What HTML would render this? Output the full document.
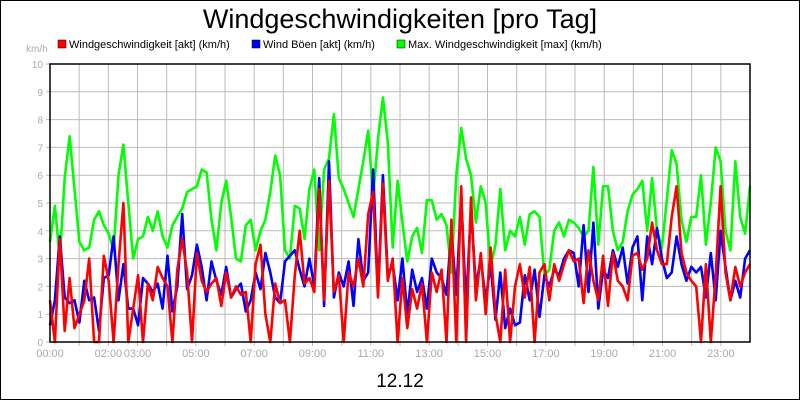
<!DOCTYPE html>
<html><head><meta charset="utf-8"><style>
body{margin:0;background:#fff}
svg{display:block;font-family:"Liberation Sans",Arial,sans-serif}
</style></head><body>
<svg id="chart" width="800" height="400">
<rect x="0.5" y="0.5" width="799" height="399" fill="#fff" stroke="#000"/>
<text x="400" y="28" text-anchor="middle" font-size="27">Windgeschwindigkeiten [pro Tag]</text>
<g>
<g><rect x="58" y="40" width="8" height="8" fill="#f00" stroke="#000" stroke-width="0.5"/><text x="69" y="48" font-size="11">Windgeschwindigkeit [akt] (km/h)</text></g>
<g><rect x="252" y="40" width="8" height="8" fill="#00f" stroke="#000" stroke-width="0.5"/><text x="263" y="48" font-size="11">Wind Böen [akt] (km/h)</text></g>
<g><rect x="397" y="40" width="8" height="8" fill="#0f0" stroke="#000" stroke-width="0.5"/><text x="408" y="48" font-size="11">Max. Windgeschwindigkeit [max] (km/h)</text></g>
</g>
<text x="26" y="52" font-size="10" fill="#aaa">km/h</text>
<g id="grid"></g>
<g id="series"></g>
<rect x="50" y="64" width="700" height="278" fill="none" stroke="#000" stroke-width="1.5"/>
<text x="400" y="387" text-anchor="middle" font-size="19">12.12</text>
</svg>
<script>
const yTicks=[0,1,2,3,4,5,6,7,8,9,10];
const xLabels=[[0,"00:00"],[2,"02:00"],[3,"03:00"],[5,"05:00"],[7,"07:00"],[9,"09:00"],[11,"11:00"],[13,"13:00"],[15,"15:00"],[17,"17:00"],[19,"19:00"],[21,"21:00"],[23,"23:00"]];
const maxSpeed=[3.6,4.9,3.0,5.9,7.4,5.5, 3.6,3.3,3.4,4.4,4.7,4.2, 3.9,3.3,6.0,7.1,5.0,3.0, 3.7,3.8,4.5,4.0,4.7,3.8, 3.4,4.2,4.5,4.8,5.4,5.5, 5.6,6.2,6.1,4.4,3.3,5.0, 5.8,4.5,3.0,2.9,4.2,4.4, 3.3,4.0,4.4,5.4,6.7,6.0, 3.3,3.0,4.9,4.8,3.7,5.5, 6.2,3.3,6.2,6.6,8.2,5.9, 5.5,5.0,4.5,5.5,6.5,7.6, 5.2,7.3,8.8,7.2,3.4,5.8, 4.3,2.9,3.8,4.1,3.2,5.1, 5.1,4.4,4.6,4.2,2.5,6.0, 7.7,6.6,6.0,4.3,5.6,5.0, 2.7,3.5,5.5,3.3,4.0,3.8, 4.5,3.5,4.6,4.7,4.5,2.4, 2.6,4.0,4.3,3.8,4.4,4.3, 4.1,3.8,4.0,6.3,3.5,5.6, 5.6,4.0,3.3,3.6,4.7,5.3, 5.5,5.8,4.0,5.9,4.0,3.4, 5.1,6.9,6.4,4.4,3.6,4.5, 4.5,6.0,3.5,5.0,7.0,6.5, 4.0,3.3,6.5,4.5,3.9,5.6];
const gustSpeed=[0.6,1.5,3.8,1.6,1.4,1.5, 0.7,2.2,1.5,1.6,0.4,2.3, 2.4,3.8,1.5,2.8,1.2,1.2, 0.6,2.3,2.1,1.8,2.1,1.2, 3.1,1.1,2.0,4.6,1.9,2.4, 3.5,2.7,1.5,2.9,2.2,1.7, 2.7,1.6,1.9,2.1,1.1,1.5, 2.5,1.9,3.2,2.5,1.6,1.4, 2.9,3.1,3.3,2.6,2.0,3.0, 2.0,5.9,1.3,6.5,1.6,2.5, 2.0,2.9,1.3,3.7,2.2,2.5, 6.2,1.8,6.0,2.4,2.8,1.5, 3.0,1.0,2.6,1.8,2.3,1.2, 3.0,2.5,2.3,1.7,4.0,1.7, 5.2,1.3,4.8,2.0,3.0,1.5, 2.8,0.8,2.5,0.5,1.2,0.6, 0.7,2.4,1.5,2.6,0.9,2.4, 2.0,2.6,2.4,3.0,3.3,3.2, 2.0,4.2,1.8,4.3,1.2,2.6, 2.3,3.3,2.7,3.4,2.1,3.4, 3.8,1.5,3.8,2.8,4.1,3.0, 2.3,2.5,3.8,2.8,2.2,2.7, 2.5,2.7,1.6,3.2,1.5,4.0, 2.7,1.5,2.2,1.6,3.0,3.3];
const actSpeed=[1.5,0,3.7,0.4,2.3,0.5, 1.0,1.5,3.0,0,0,3.1, 2.2,0,2.8,5.0,0,1.2, 2.4,0,2.1,1.5,2.7,2.3, 2.0,0,2.6,3.7,2.5,0, 3.2,2.2,1.8,2.1,2.3,1.3, 2.5,1.6,2.0,1.7,1.8,0, 2.8,3.5,1.0,0,2.1,1.4, 1.5,0,2.4,4.0,2.1,2.3, 1.8,5.5,1.5,5.8,1.8,2.4, 0,2.5,2.0,3.0,2.0,4.6, 5.4,1.6,5.7,2.2,3.0,0, 2.3,0.5,1.9,1.2,2.1,0, 2.5,1.8,2.6,0,4.4,0, 5.6,0,5.2,1.5,3.2,1.0, 3.4,1.0,0,2.6,0,2.0, 2.8,1.6,2.7,0,2.5,2.8, 1.5,2.8,2.2,2.8,3.3,2.9, 3.0,1.4,3.3,2.2,1.5,3.1, 1.3,3.2,2.2,2.0,1.5,3.1, 3.2,2.6,3.0,4.3,3.3,2.8, 2.8,4.5,5.6,3.2,2.5,2.2, 2.0,0,2.8,0,2.4,5.6, 2.5,1.5,2.7,2.0,2.5,2.8];
const X0=50,X1=750,Y0=342,Y1=64,YMAX=10,HOURS=24;
const xPos=h=>X0+(X1-X0)*h/HOURS;
const yPos=v=>Y0-(Y0-Y1)*v/YMAX;
const NS="http://www.w3.org/2000/svg";
const grid=document.getElementById('grid'),series=document.getElementById('series');
function mk(tag,attrs,parent){const e=document.createElementNS(NS,tag);for(const k in attrs)e.setAttribute(k,attrs[k]);parent.appendChild(e);return e;}
yTicks.forEach(t=>{
  const l=mk('line',{x1:X0-4,x2:X1,y1:yPos(t),y2:yPos(t),stroke:'#bbb','stroke-width':1},grid);
  
  
  const tx=mk('text',{x:X0-7,y:yPos(t)+4,'text-anchor':'end','font-size':10,fill:'#aaa'},grid);
  tx.textContent=t;
  
  
});
for(let h=1;h<HOURS;h++){
  const l=mk('line',{x1:xPos(h),x2:xPos(h),y1:Y1,y2:Y0+4,stroke:'#bbb','stroke-width':1},grid);
  
  
}
xLabels.forEach(([h,s])=>{
  const tx=mk('text',{x:xPos(h),y:Y0+15,'text-anchor':'middle','font-size':11,fill:'#aaa'},grid);
  tx.textContent=s;
  
  
});
function line(arr,color,name){
  const step=HOURS/(arr.length-1);
  const pts=arr.map((v,i)=>xPos(i*step).toFixed(1)+','+yPos(v).toFixed(1)).join(' ');
  const p=mk('polyline',{points:pts,fill:'none',stroke:color,'stroke-width':2.6,'stroke-linejoin':'round'},series);
  
  
}
line(maxSpeed,'#0f0','line-max-speed');
line(gustSpeed,'#00f','line-gust-speed');
line(actSpeed,'#f00','line-act-speed');
</script>
</body></html>
